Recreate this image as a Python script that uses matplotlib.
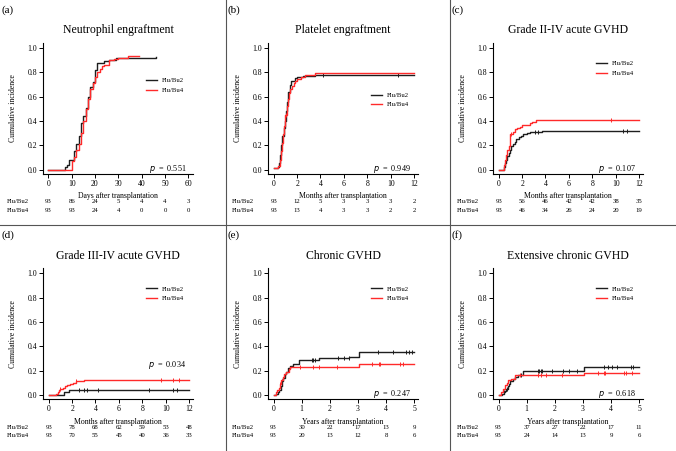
import numpy as np
import matplotlib
matplotlib.use("Agg")
import matplotlib.pyplot as plt
from matplotlib.lines import Line2D
from matplotlib.transforms import blended_transform_factory

plt.rcParams['font.family'] = ['Liberation Serif', 'DejaVu Serif']

groups = ["Flu/Bu2", "Flu/Bu4"]
colors = ["#1e1e1e", "#ff2a2a"]

titles = ["Neutrophil engraftment", "Platelet engraftment", "Grade II-IV acute GVHD",
          "Grade III-IV acute GVHD", "Chronic GVHD", "Extensive chronic GVHD"]
panel_labels = ["(a)", "(b)", "(c)", "(d)", "(e)", "(f)"]
xlabels = ["Days after transplantation", "Months after transplantation",
           "Months after transplantation", "Months after transplantation",
           "Years after transplantation", "Years after transplantation"]
xticks_list = [[0, 10, 20, 30, 40, 50, 60], [0, 2, 4, 6, 8, 10, 12], [0, 2, 4, 6, 8, 10, 12],
               [0, 2, 4, 6, 8, 10, 12], [0, 1, 2, 3, 4, 5], [0, 1, 2, 3, 4, 5]]
p_values = ["0.551", "0.949", "0.107", "0.034", "0.247", "0.618"]

# (a) Neutrophil engraftment
a_bu2_t = [0, 7, 8, 9, 11, 12, 13, 14, 15, 16, 17, 18, 19, 20, 21, 24, 26, 29, 46]
a_bu2_y = [0, 0.02, 0.04, 0.08, 0.15, 0.21, 0.28, 0.38, 0.44, 0.51, 0.60, 0.68, 0.72, 0.82, 0.88, 0.89, 0.90, 0.92, 0.925]
a_bu4_t = [0, 10, 11, 12, 13, 14, 15, 16, 17, 18, 19, 20, 21, 22, 23, 24, 26, 28, 30, 34, 39]
a_bu4_y = [0, 0.07, 0.10, 0.16, 0.21, 0.30, 0.40, 0.50, 0.58, 0.66, 0.71, 0.76, 0.80, 0.83, 0.85, 0.86, 0.90, 0.91, 0.92, 0.935, 0.935]
a_bu2_c = []
a_bu4_c = []

# (b) Platelet engraftment
b_bu2_t = [0, 0.35, 0.45, 0.55, 0.65, 0.75, 0.85, 0.95, 1.05, 1.15, 1.25, 1.35, 1.5, 1.8, 2.0, 2.5, 3.5, 12]
b_bu2_y = [0.01, 0.02, 0.05, 0.12, 0.20, 0.28, 0.34, 0.40, 0.48, 0.56, 0.64, 0.70, 0.73, 0.75, 0.765, 0.77, 0.775, 0.775]
b_bu4_t = [0, 0.4, 0.5, 0.6, 0.7, 0.8, 0.9, 1.0, 1.1, 1.2, 1.3, 1.4, 1.55, 1.7, 1.85, 2.0, 2.3, 2.7, 3.0, 3.5, 12]
b_bu4_y = [0.01, 0.03, 0.08, 0.15, 0.22, 0.29, 0.36, 0.45, 0.52, 0.58, 0.63, 0.66, 0.69, 0.71, 0.73, 0.745, 0.76, 0.775, 0.78, 0.795, 0.795]
b_bu2_c = [4.2, 10.6]
b_bu4_c = [1.05]

# (c) Grade II-IV acute GVHD
c_bu2_t = [0, 0.45, 0.55, 0.65, 0.75, 0.85, 0.95, 1.05, 1.2, 1.35, 1.5, 1.7, 1.9, 2.1, 2.4, 2.7, 3.7, 12]
c_bu2_y = [0, 0.02, 0.05, 0.08, 0.11, 0.14, 0.16, 0.19, 0.21, 0.23, 0.25, 0.27, 0.28, 0.29, 0.30, 0.31, 0.32, 0.32]
c_bu4_t = [0, 0.45, 0.55, 0.65, 0.75, 0.85, 0.95, 1.0, 1.2, 1.4, 1.6, 1.8, 2.0, 2.7, 2.85, 3.2, 12]
c_bu4_y = [0, 0.04, 0.08, 0.12, 0.16, 0.19, 0.24, 0.29, 0.31, 0.33, 0.34, 0.35, 0.37, 0.38, 0.39, 0.41, 0.41]
c_bu2_c = [3.1, 3.4, 10.6, 11.0]
c_bu4_c = [1.05, 9.57]

# (d) Grade III-IV acute GVHD
d_bu2_t = [0, 1.3, 1.7, 12]
d_bu2_y = [0, 0.02, 0.04, 0.04]
d_bu4_t = [0, 0.6, 0.8, 0.9, 1.0, 1.2, 1.4, 1.6, 1.8, 2.1, 2.3, 3.0, 12]
d_bu4_y = [0, 0.01, 0.02, 0.04, 0.05, 0.06, 0.07, 0.08, 0.09, 0.10, 0.11, 0.12, 0.12]
d_bu2_c = [2.6, 3.0, 3.3, 4.2, 8.6, 10.6, 11.0]
d_bu4_c = [1.0, 2.3, 9.6, 10.6, 11.1]

# (e) Chronic GVHD
e_bu2_t = [0, 0.1, 0.15, 0.2, 0.25, 0.3, 0.35, 0.4, 0.45, 0.5, 0.6, 0.7, 0.9, 1.6, 2.7, 3.05, 5]
e_bu2_y = [0, 0.01, 0.02, 0.04, 0.07, 0.11, 0.14, 0.17, 0.19, 0.22, 0.24, 0.25, 0.29, 0.30, 0.31, 0.35, 0.35]
e_bu4_t = [0, 0.08, 0.12, 0.18, 0.22, 0.27, 0.32, 0.38, 0.45, 0.55, 0.6, 3.05, 5]
e_bu4_y = [0, 0.02, 0.04, 0.06, 0.09, 0.12, 0.15, 0.17, 0.19, 0.21, 0.23, 0.25, 0.25]
e_bu2_c = [0.3, 1.36, 1.41, 1.47, 2.3, 2.49, 2.67, 3.72, 4.25, 4.73, 4.82, 4.94]
e_bu4_c = [0.22, 0.95, 1.4, 1.6, 2.25, 3.5, 3.75, 3.77, 4.5, 4.6]

# (f) Extensive chronic GVHD
f_bu2_t = [0, 0.12, 0.18, 0.22, 0.27, 0.32, 0.37, 0.42, 0.5, 0.6, 0.7, 0.87, 3.05, 5]
f_bu2_y = [0, 0.01, 0.02, 0.03, 0.05, 0.07, 0.09, 0.11, 0.13, 0.15, 0.16, 0.195, 0.23, 0.23]
f_bu4_t = [0, 0.08, 0.15, 0.22, 0.3, 0.35, 0.45, 0.6, 0.8, 3.05, 5]
f_bu4_y = [0, 0.02, 0.05, 0.08, 0.10, 0.12, 0.13, 0.16, 0.165, 0.18, 0.18]
f_bu2_c = [0.2, 0.3, 0.8, 1.4, 1.45, 1.5, 1.55, 1.9, 2.3, 2.5, 2.8, 3.75, 3.9, 4.05, 4.2, 4.7, 4.8]
f_bu4_c = [0.75, 1.4, 1.5, 1.7, 2.25, 3.55, 3.75, 3.8, 4.45, 4.55, 4.75]

# Numbers at risk
risk_bu2 = [[93, 86, 24, 5, 4, 4, 3], [93, 12, 5, 3, 3, 3, 2], [93, 56, 46, 42, 42, 38, 35],
            [93, 78, 68, 62, 59, 53, 48], [93, 30, 22, 17, 13, 9], [93, 37, 27, 22, 17, 11]]
risk_bu4 = [[93, 93, 24, 4, 0, 0, 0], [93, 13, 4, 3, 3, 2, 2], [93, 46, 34, 26, 24, 20, 19],
            [93, 70, 55, 45, 40, 36, 33], [93, 20, 13, 12, 8, 6], [93, 24, 14, 13, 9, 6]]

curves = [
    ((a_bu2_t, a_bu2_y, a_bu2_c), (a_bu4_t, a_bu4_y, a_bu4_c)),
    ((b_bu2_t, b_bu2_y, b_bu2_c), (b_bu4_t, b_bu4_y, b_bu4_c)),
    ((c_bu2_t, c_bu2_y, c_bu2_c), (c_bu4_t, c_bu4_y, c_bu4_c)),
    ((d_bu2_t, d_bu2_y, d_bu2_c), (d_bu4_t, d_bu4_y, d_bu4_c)),
    ((e_bu2_t, e_bu2_y, e_bu2_c), (e_bu4_t, e_bu4_y, e_bu4_c)),
    ((f_bu2_t, f_bu2_y, f_bu2_c), (f_bu4_t, f_bu4_y, f_bu4_c)),
]

W, H = 676, 451
fig = plt.figure(figsize=(W / 100, H / 100), dpi=100)

col_off = [0, 225, 450]
row_axes = [(43, 174), (268.3, 399.3)]  # top, bottom in px
xlims = [(-2.27, 62.0), (-0.49, 12.34), (-0.49, 12.34), (-0.49, 12.34), (-0.2, 5.14), (-0.2, 5.14)]
legend_y = [0.735, 0.625, 0.865, 0.865, 0.865, 0.865]
p_y = [0.04, 0.04, 0.04, 0.265, 0.04, 0.04]

fs_tick = 5.6
fs_small = 4.9


def step_value(t, y, x):
    idx = np.searchsorted(np.asarray(t), x, side='right') - 1
    return np.asarray(y)[idx]


for i in range(6):
    r, c = divmod(i, 3)
    off = col_off[c]
    top, bot = row_axes[r]
    ax = fig.add_axes([(off + 43) / W, 1 - bot / H, 150 / W, (bot - top) / H])
    for g, (t, y, cens) in enumerate(curves[i]):
        ax.plot(t, y, drawstyle='steps-post', color=colors[g], lw=1.0, label=groups[g])
        if cens:
            cy = [step_value(t, y, x) for x in cens]
            ax.plot(cens, cy, ls='none', marker='|', ms=3.5, mew=0.7, color=colors[g])
    ax.set_xlim(*xlims[i])
    ax.set_ylim(-0.037, 1.042)
    ax.set_xticks(xticks_list[i])
    ax.set_yticks([0, 0.2, 0.4, 0.6, 0.8, 1.0])
    ax.set_yticklabels(["0.0", "0.2", "0.4", "0.6", "0.8", "1.0"])
    for s in ['top', 'right']:
        ax.spines[s].set_visible(False)
    for s in ['left', 'bottom']:
        ax.spines[s].set_linewidth(0.8)
    ax.tick_params(labelsize=fs_tick, length=2.6, width=0.7, pad=1.5)
    ax.set_title(titles[i], fontsize=8.5, pad=7)
    ax.set_xlabel(xlabels[i], fontsize=fs_tick)
    ax.set_ylabel("Cumulative incidence", fontsize=fs_tick)
    ax.xaxis.set_label_coords(0.5, -0.14)
    ax.yaxis.set_label_coords(-0.175, 0.5)
    ax.legend(loc='upper left', bbox_to_anchor=(0.687, legend_y[i]), frameon=False,
              fontsize=fs_small, handlelength=1.6, handletextpad=0.75, labelspacing=0.55,
              borderaxespad=0, borderpad=0)
    ax.text(0.955, p_y[i], r"$\it{p}$" + "  =  " + p_values[i], transform=ax.transAxes,
            ha='right', va='center', fontsize=fs_tick + 0.3)
    # risk table
    tr = blended_transform_factory(ax.transData, ax.transAxes)
    for rowv, yv, name in [(risk_bu2[i], -0.213, groups[0]), (risk_bu4[i], -0.276, groups[1])]:
        ax.text(-0.24, yv, name, transform=ax.transAxes, ha='left', va='center', fontsize=fs_small)
        for xv, n in zip(xticks_list[i], rowv):
            ax.text(xv, yv, str(n), transform=tr, ha='center', va='center', fontsize=fs_small)
    # panel label
    fig.text((off + 2) / W, 1 - (top - 33) / H, panel_labels[i], ha='left', va='center', fontsize=8)

# separator lines
sep_col = '#555555'
for xv in [226, 450]:
    fig.add_artist(Line2D([xv / W, xv / W], [0, 1], color=sep_col, lw=0.8))
fig.add_artist(Line2D([0, 1], [1 - 225 / H, 1 - 225 / H], color=sep_col, lw=0.8))

fig.savefig("out.png", dpi=100)
